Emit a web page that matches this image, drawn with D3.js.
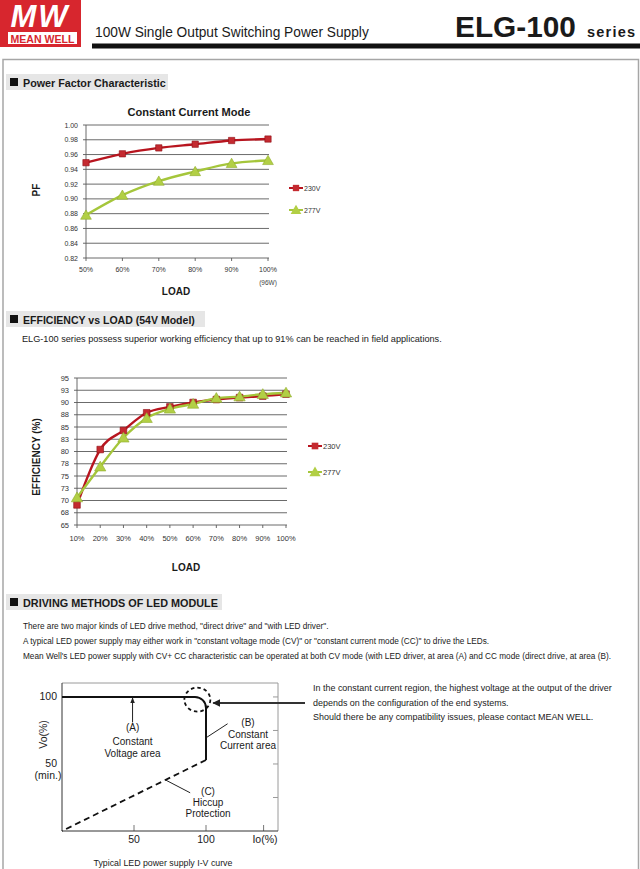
<!DOCTYPE html>
<html><head><meta charset="utf-8">
<script src="https://cdn.jsdelivr.net/npm/d3@7"></script>
<style>
html,body{margin:0;padding:0;background:#fff;}
svg{display:block;}
text{font-family:'Liberation Sans',Arial,sans-serif;fill:#1a1a1a;}
</style></head>
<body>
<svg id="page" width="640" height="869"></svg>
<script>
// ---------- data ----------
const pfLoads = ["50%","60%","70%","80%","90%","100%"];
const pf230 = [0.949,0.961,0.969,0.974,0.979,0.981];
const pf277 = [0.878,0.905,0.924,0.937,0.948,0.952];
const pfTicks = [0.82,0.84,0.86,0.88,0.90,0.92,0.94,0.96,0.98,1.00];

const effLoads = ["10%","20%","30%","40%","50%","60%","70%","80%","90%","100%"];
const eff230 = [69.1,80.4,84.3,87.9,89.1,90.0,90.6,91.0,91.3,91.7];
const eff277 = [70.6,76.9,82.8,86.8,88.7,89.7,90.9,91.2,91.7,92.0];
const effTicks = [65,67.5,70,72.5,75,77.5,80,82.5,85,87.5,90,92.5,95];
const effTickLabels = ["65","68","70","73","75","78","80","83","85","88","90","93","95"];

const seriesNames = ["230V","277V"];

// I-V curve (Io %, Vo %)
const ivCVEnd = [100,100];
const ivStart = [0,100];
const ivCCEnd = [100,53];
const ivHiccup = [[100,53],[0,0]];
const ivYTicks = [100,50];
const ivXTicks = [50,100];
const ivFrameTicksY = [25,50,75,100];
const ivFrameTicksX = [50,100,140];

const RED="#b8151f", RED_M="#c42a30", GREEN="#a5c63b", GREEN_M="#b2cf45";

const svg = d3.select("#page");

function txt(g,x,y,s,o={}){
  const t=g.append("text").attr("x",x).attr("y",y).text(s);
  if(o.size) t.style("font-size",o.size+"px");
  if(o.bold) t.style("font-weight","bold");
  if(o.italic) t.style("font-style","italic");
  if(o.anchor) t.attr("text-anchor",o.anchor);
  if(o.fill) t.style("fill",o.fill);
  if(o.ls) t.style("letter-spacing",o.ls+"px");
  if(o.fit){ const l=t.node().getComputedTextLength(); const s0=o.size||10; t.style("font-size",(s0*o.fit/l).toFixed(2)+"px"); }
  return t;
}
function fitSize(s,w,o={}){
  const t=txt(svg,0,-50,s,{size:10,bold:o.bold});
  const l=t.node().getComputedTextLength(); t.remove(); return 10*w/l;
}

// ---------- header ----------
svg.append("rect").attr("x",0).attr("y",0).attr("width",81).attr("height",47).attr("fill","#d7262e");
txt(svg,40,27,"MW",{size:31,bold:true,italic:true,anchor:"middle",fill:"#fff",ls:2});
svg.append("rect").attr("x",8).attr("y",32).attr("width",69).attr("height",12).attr("fill","#fff");
txt(svg,42.5,42.5,"MEAN WELL",{size:10,bold:true,anchor:"middle",fill:"#d7262e",fit:64});
txt(svg,95,37,"100W Single Output Switching Power Supply",{size:13,fit:274});
txt(svg,455,37,"ELG-100",{size:30,bold:true,fit:121});
txt(svg,587,37,"series",{size:15,bold:true,ls:1.2,fit:49});
svg.append("rect").attr("x",92).attr("y",43.5).attr("width",548).attr("height",5).attr("fill","#111");

// page frame
svg.append("path").attr("d","M3,869 V59.5 H638.5 V869").attr("fill","none").attr("stroke","#a6a6a6").attr("stroke-width",1.5);

function sectionHeader(y,w,label,len){
  svg.append("rect").attr("x",6).attr("y",y).attr("width",w).attr("height",16).attr("fill","#e6e6e6");
  svg.append("rect").attr("x",10).attr("y",y+4).attr("width",8).attr("height",8).attr("fill","#111");
  txt(svg,23,y+12.5,label,{size:11,bold:true,fit:len});
}
sectionHeader(74,162,"Power Factor Characteristic",143);
sectionHeader(311,199,"EFFICIENCY vs LOAD (54V Model)",172);
sectionHeader(594,216,"DRIVING METHODS OF LED MODULE",195);

// ---------- generic line chart ----------
function lineChart(cfg){
  const g=svg.append("g");
  const x=d3.scalePoint(cfg.cats,cfg.xr);
  const y=d3.scaleLinear(cfg.yd,cfg.yr);
  g.selectAll(".grid").data(cfg.ticks).join("line")
    .attr("x1",cfg.xr[0]-3).attr("x2",cfg.xr[1]+1)
    .attr("y1",d=>y(d)).attr("y2",d=>y(d))
    .attr("stroke","#5a5a5a").attr("stroke-width",0.9);
  g.append("line").attr("x1",cfg.xr[0]).attr("x2",cfg.xr[0]).attr("y1",cfg.yr[0]).attr("y2",cfg.yr[1])
    .attr("stroke","#5a5a5a").attr("stroke-width",0.9);
  g.selectAll(".xt").data(cfg.cats).join("line")
    .attr("x1",d=>x(d)).attr("x2",d=>x(d)).attr("y1",cfg.yr[0]).attr("y2",cfg.yr[0]+3)
    .attr("stroke","#5a5a5a").attr("stroke-width",0.9);
  cfg.ticks.forEach((t,i)=>txt(g,cfg.xr[0]-8,y(t)+2.5,cfg.tickLabels[i],{size:cfg.tfs,anchor:"end",fill:"#333"}));
  cfg.cats.forEach(c=>txt(g,x(c),cfg.yr[0]+cfg.xlOff,c,{size:cfg.tfs,anchor:"middle",fill:"#333"}));
  const line=d3.line().x((d,i)=>x(cfg.cats[i])).y(d=>y(d)).curve(d3.curveMonotoneX);
  const sq=d3.symbol(d3.symbolSquare,cfg.sqSize), tri=d3.symbol(d3.symbolTriangle,cfg.triSize);
  g.append("path").attr("d",line(cfg.s1)).attr("fill","none").attr("stroke",RED).attr("stroke-width",2.4);
  g.append("path").attr("d",line(cfg.s2)).attr("fill","none").attr("stroke",GREEN).attr("stroke-width",2.4);
  g.selectAll(".m1").data(cfg.s1).join("path").attr("d",sq)
    .attr("transform",(d,i)=>`translate(${x(cfg.cats[i])},${y(d)})`).attr("fill",RED_M).attr("stroke","#8e0f16").attr("stroke-width",0.6);
  g.selectAll(".m2").data(cfg.s2).join("path").attr("d",tri)
    .attr("transform",(d,i)=>`translate(${x(cfg.cats[i])},${y(d)+1})`).attr("fill",GREEN_M).attr("stroke","#90ad2e").attr("stroke-width",0.6);
  cfg.legend.forEach((L,i)=>{
    const c=i===0?RED:GREEN;
    g.append("line").attr("x1",L[0]).attr("x2",L[0]+14).attr("y1",L[1]).attr("y2",L[1]).attr("stroke",c).attr("stroke-width",2);
    g.append("path").attr("d",i===0?sq:tri).attr("transform",`translate(${L[0]+7},${L[1]+(i?1:0)})`)
      .attr("fill",i===0?RED_M:GREEN_M);
    txt(g,L[0]+15,L[1]+2.5,seriesNames[i],{size:cfg.tfs,fill:"#333"});
  });
  return {x,y,g};
}

// ---------- PF chart ----------
txt(svg,189,116,"Constant Current Mode",{size:12,bold:true,anchor:"middle",fit:123});
lineChart({cats:pfLoads,xr:[86,268],yd:[0.82,1.0],yr:[258,125],ticks:pfTicks,
  tickLabels:pfTicks.map(d3.format(".2f")),tfs:7,xlOff:13.5,s1:pf230,s2:pf277,sqSize:40,triSize:50,
  legend:[[289,188],[289,210]]});
txt(svg,268,285,"(96W)",{size:6.5,anchor:"middle",fill:"#444"});
txt(svg,176,295,"LOAD",{size:10,bold:true,anchor:"middle"});
txt(svg,0,0,"PF",{size:10,bold:true,anchor:"middle"}).attr("transform","translate(40,190) rotate(-90)");

// ---------- Efficiency ----------
txt(svg,22,342,"ELG-100 series possess superior working efficiency that up to 91% can be reached in field applications.",{size:9,fit:420});
lineChart({cats:effLoads,xr:[77,286],yd:[65,95],yr:[525,378],ticks:effTicks,
  tickLabels:effTickLabels,tfs:7.5,xlOff:16,s1:eff230,s2:eff277,sqSize:44,triSize:55,
  legend:[[308,446],[308,472]]});
txt(svg,186,571,"LOAD",{size:10,bold:true,anchor:"middle"});
txt(svg,0,0,"EFFICIENCY (%)",{size:10,bold:true,anchor:"middle"}).attr("transform","translate(40,457) rotate(-90)");

// ---------- Driving methods text ----------
const dLines=["There are two major kinds of LED drive method, \"direct drive\" and \"with LED driver\".",
  "A typical LED power supply may either work in \"constant voltage mode (CV)\" or \"constant current mode (CC)\" to drive the LEDs.",
  "Mean Well's LED power supply with CV+ CC characteristic can be operated at both CV mode (with LED driver, at area (A) and CC mode (direct drive, at area (B)."];
const dSize=fitSize(dLines[2],589);
dLines.forEach((s,i)=>txt(svg,23,629+15*i,s,{size:dSize}));

const rLines=["In the constant current region, the highest voltage at the output of the driver",
  "depends on the configuration of the end systems.",
  "Should there be any compatibility issues, please contact MEAN WELL."];
const rSize=fitSize(rLines[0],299);
rLines.forEach((s,i)=>txt(svg,313,691+14.5*i,s,{size:rSize}));

// ---------- I-V curve ----------
const ix=d3.scaleLinear([0,150],[62,278]);
const iy=d3.scaleLinear([0,110.4],[831,683]);
const ivg=svg.append("g");
ivg.append("path").attr("d",`M${ix(0)},${iy(110.4)} H${ix(150)} V${iy(0)}`).attr("fill","none").attr("stroke","#9a9a9a").attr("stroke-width",1);
ivg.selectAll(".ft").data(ivFrameTicksY).join("line").attr("x1",ix(150)-5).attr("x2",ix(150)).attr("y1",d=>iy(d)).attr("y2",d=>iy(d)).attr("stroke","#9a9a9a");
ivg.selectAll(".fx").data(ivFrameTicksX).join("line").attr("x1",d=>ix(d)).attr("x2",d=>ix(d)).attr("y1",iy(0)).attr("y2",iy(0)-6).attr("stroke","#777");
ivg.append("path").attr("d",`M${ix(0)},${iy(110.4)} V${iy(0)} H${ix(150)}`).attr("fill","none").attr("stroke","#333").attr("stroke-width",1);
const r=11;
ivg.append("path").attr("d",`M${ix(ivStart[0])},${iy(ivStart[1])} H${ix(ivCVEnd[0])-r} A${r},${r} 0 0 1 ${ix(ivCVEnd[0])},${iy(ivCVEnd[1])+r} V${iy(ivCCEnd[1])}`)
  .attr("fill","none").attr("stroke","#111").attr("stroke-width",2);
ivg.append("path").attr("d",d3.line().x(d=>ix(d[0])).y(d=>iy(d[1]))(ivHiccup)).attr("fill","none").attr("stroke","#111").attr("stroke-width",1.8).attr("stroke-dasharray","6,4");
ivg.append("ellipse").attr("cx",ix(94)).attr("cy",iy(98)).attr("rx",13).attr("ry",12).attr("fill","none").attr("stroke","#111").attr("stroke-width",1.8).attr("stroke-dasharray","3.5,3");
const defs=svg.append("defs");
defs.append("marker").attr("id","ah").attr("viewBox","0 0 10 10").attr("refX",9).attr("refY",5).attr("markerWidth",4).attr("markerHeight",4).attr("orient","auto")
  .append("path").attr("d","M0,0 L10,5 L0,10 z").attr("fill","#222");
defs.append("marker").attr("id","ah2").attr("viewBox","0 0 10 10").attr("refX",9).attr("refY",5).attr("markerWidth",6).attr("markerHeight",6).attr("orient","auto")
  .append("path").attr("d","M0,1 L10,5 L0,9 z").attr("fill","#222");
ivg.append("line").attr("x1",305).attr("x2",ix(105)).attr("y1",iy(95.5)).attr("y2",iy(95.5)).attr("stroke","#333").attr("stroke-width",2).attr("marker-end","url(#ah)");
ivg.append("line").attr("x1",ix(49)).attr("x2",ix(49)).attr("y1",iy(81)).attr("y2",iy(100)+1).attr("stroke","#222").attr("stroke-width",1).attr("marker-end","url(#ah2)");
ivg.append("line").attr("x1",ix(100)+1).attr("y1",iy(70)).attr("x2",ix(115)).attr("y2",iy(80)).attr("stroke","#222").attr("stroke-width",1);
ivg.append("line").attr("x1",ix(72)).attr("y1",iy(38)).attr("x2",ix(89)).attr("y2",iy(28.5)).attr("stroke","#222").attr("stroke-width",1);
const af={size:10,anchor:"middle"};
txt(ivg,ix(49),731,"(A)",af);
txt(ivg,ix(49),744.5,"Constant",af);
txt(ivg,ix(49),757,"Voltage area",af);
txt(ivg,248,726,"(B)",af);
txt(ivg,248,737.5,"Constant",af);
txt(ivg,248,749,"Current area",af);
txt(ivg,208,795,"(C)",af);
txt(ivg,208,806,"Hiccup",af);
txt(ivg,208,817,"Protection",af);
ivYTicks.forEach(t=>txt(ivg,57,iy(t)+3.5,String(t),{size:10.5,anchor:"end"}));
txt(ivg,48,779,"(min.)",{size:10.5,anchor:"middle"});
txt(ivg,0,0,"Vo(%)",{size:10.5,anchor:"middle"}).attr("transform",`translate(47,${iy(72)}) rotate(-90)`);
ivXTicks.forEach(t=>txt(ivg,ix(t),843,String(t),{size:10.5,anchor:"middle"}));
txt(ivg,265,843,"Io(%)",{size:10.5,anchor:"middle"});
txt(ivg,163,866,"Typical LED power supply I-V curve",{size:10,anchor:"middle",fit:139});
</script>
</body></html>
